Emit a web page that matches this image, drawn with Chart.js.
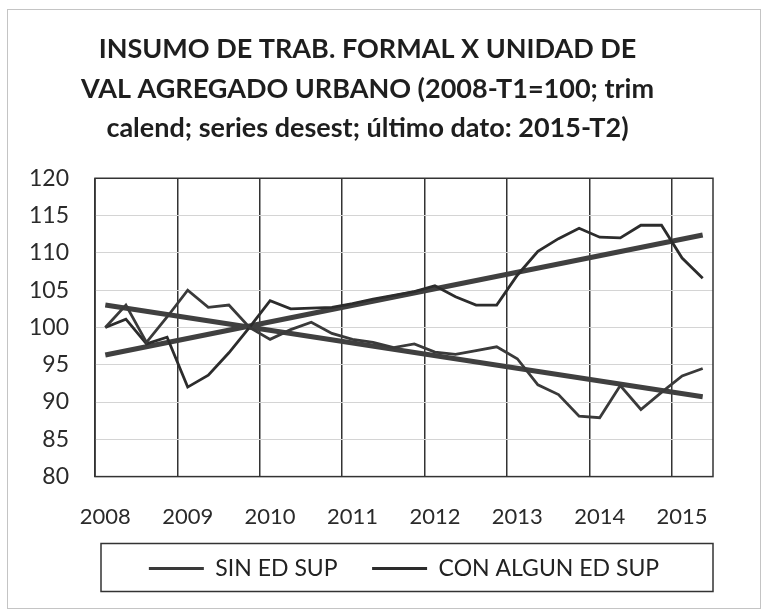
<!DOCTYPE html>
<html>
<head>
<meta charset="utf-8">
<script src="https://cdn.jsdelivr.net/npm/chart.js@4.4.1/dist/chart.umd.min.js"></script>
<style>
  html, body { margin: 0; padding: 0; background: #fff; }
  #wrap { width: 768px; height: 613px; }
</style>
</head>
<body>
<div id="wrap"><canvas id="chart" width="768" height="613"></canvas></div>
<script>
// ====== data ======
const quarters = [
  "2008-T1", "2008-T2", "2008-T3", "2008-T4",
  "2009-T1", "2009-T2", "2009-T3", "2009-T4",
  "2010-T1", "2010-T2", "2010-T3", "2010-T4",
  "2011-T1", "2011-T2", "2011-T3", "2011-T4",
  "2012-T1", "2012-T2", "2012-T3", "2012-T4",
  "2013-T1", "2013-T2", "2013-T3", "2013-T4",
  "2014-T1", "2014-T2", "2014-T3", "2014-T4",
  "2015-T1", "2015-T2",
];

const sinEdSup = [
  100.0, 103.0, 98.0, 101.4, 105.0, 102.7, 103.0, 100.0,
  98.4, 99.7, 100.7, 99.2, 98.4, 98.0, 97.3, 97.8,
  96.7, 96.4, 96.9, 97.4, 95.8, 92.3, 91.0, 88.1,
  87.9, 92.2, 89.0, 91.3, 93.5, 94.5,
];

const conAlgunEdSup = [
  100.0, 101.1, 97.8, 98.7, 92.0, 93.6, 96.6, 100.0,
  103.6, 102.5, 102.6, 102.7, 103.2, 103.8, 104.3, 104.8,
  105.6, 104.1, 103.0, 103.0, 107.0, 110.2, 111.9, 113.3,
  112.1, 112.0, 113.7, 113.7, 109.3, 106.6,
];

// linear trend lines: value at first and last quarter
const sinTrend = [103.0, 90.7];
const conTrend = [96.3, 112.4];

const seriesNames = ["SIN ED SUP", "CON ALGUN ED SUP"];
const titleLines = [
  "INSUMO DE TRAB. FORMAL X UNIDAD DE",
  "VAL AGREGADO URBANO (2008-T1=100; trim",
  "calend; series desest; último dato: 2015-T2)",
];
const yMin = 80, yMax = 120, yStep = 5;

// ====== colours ======
const sinColor = "#3a3a3a";
const conColor = "#2c2c2c";
const trendColor = "#404040";

function trendPoints(vals) {
  return [
    { x: quarters[0], y: vals[0] },
    { x: quarters[quarters.length - 1], y: vals[1] },
  ];
}

// ====== frame / legend box ======
const framePlugin = {
  id: "frame",
  beforeDraw(chart) {
    const ctx = chart.ctx;
    ctx.save();
    ctx.fillStyle = "#fff";
    ctx.fillRect(0, 0, chart.width, chart.height);
    ctx.strokeStyle = "#c4c4c4";
    ctx.lineWidth = 1;
    ctx.strokeRect(7.5, 9.5, chart.width - 15, chart.height - 14);
    ctx.restore();
  },
  afterDraw(chart) {
    const ctx = chart.ctx;
    const a = chart.chartArea;
    ctx.save();
    ctx.strokeStyle = "#333";
    ctx.lineWidth = 1.5;
    ctx.strokeRect(a.left, a.top, a.right - a.left, a.bottom - a.top);

    const lg = chart.legend;
    if (lg && lg.legendHitBoxes && lg.legendHitBoxes.length) {
      const hb = lg.legendHitBoxes[0];
      const cy = hb.top + hb.height / 2;
      ctx.lineWidth = 1.5;
      ctx.strokeRect(a.left + 6, cy - 25, a.right - a.left - 6, 48);
    }
    ctx.restore();
  },
};

new Chart(document.getElementById("chart"), {
  type: "line",
  data: {
    labels: quarters,
    datasets: [
      { label: seriesNames[0], data: sinEdSup, borderColor: sinColor, backgroundColor: sinColor, borderWidth: 2.8 },
      { label: seriesNames[1], data: conAlgunEdSup, borderColor: conColor, backgroundColor: conColor, borderWidth: 2.8 },
      { label: "trend1", data: trendPoints(sinTrend), borderColor: trendColor, borderWidth: 5 },
      { label: "trend2", data: trendPoints(conTrend), borderColor: trendColor, borderWidth: 5 },
    ],
  },
  options: {
    responsive: false,
    animation: false,
    devicePixelRatio: 1,
    elements: { point: { radius: 0 }, line: { tension: 0 } },
    layout: { padding: { top: 10, left: 22, right: 55, bottom: 23 } },
    scales: {
      x: {
        offset: true,
        grid: {
          offset: true,
          drawTicks: false,
          lineWidth: 1.5,
          color: (c) => (c.index % 4 === 0 ? "#333" : "rgba(0,0,0,0)"),
        },
        border: { display: false },
        ticks: {
          autoSkip: false,
          maxRotation: 0,
          padding: 27,
          color: "#2a2a2a",
          font: { family: "Lato", size: 22 },
          callback: function (v, i) {
            const lab = this.getLabelForValue(v);
            return lab.endsWith("T1") ? lab.slice(0, 4) : "";
          },
        },
      },
      y: {
        min: yMin,
        max: yMax,
        afterFit: (s) => { s.width = 73; },
        grid: {
          drawTicks: false,
          color: (c) => (c.tick && (c.tick.value === yMin || c.tick.value === yMax) ? "rgba(0,0,0,0)" : "#d4d4d4"),
        },
        border: { display: false },
        ticks: {
          stepSize: yStep,
          padding: 26,
          color: "#2a2a2a",
          font: { family: "Lato", size: 23 },
        },
      },
    },
    plugins: {
      title: {
        display: true,
        text: titleLines,
        color: "#1e1e1e",
        font: { family: "Lato", size: 27, weight: "bold", lineHeight: 1.46 },
        padding: { top: 20, bottom: 30 },
      },
      legend: {
        position: "bottom",
        fullSize: false,
        labels: {
          boxWidth: 55,
          boxHeight: 3,
          padding: 0,
          color: "#222",
          font: { family: "Lato", size: 23 },
          generateLabels(chart) {
            const items = Chart.defaults.plugins.legend.labels.generateLabels(chart);
            return items
              .filter((it) => it.datasetIndex < 2)
              .map((it) => Object.assign(it, {
                lineWidth: 0,
                text: it.datasetIndex === 0 ? it.text + "\u2003\u2003" : it.text,
              }));
          },
        },
      },
      tooltip: { enabled: false },
    },
  },
  plugins: [framePlugin],
});
</script>
</body>
</html>
